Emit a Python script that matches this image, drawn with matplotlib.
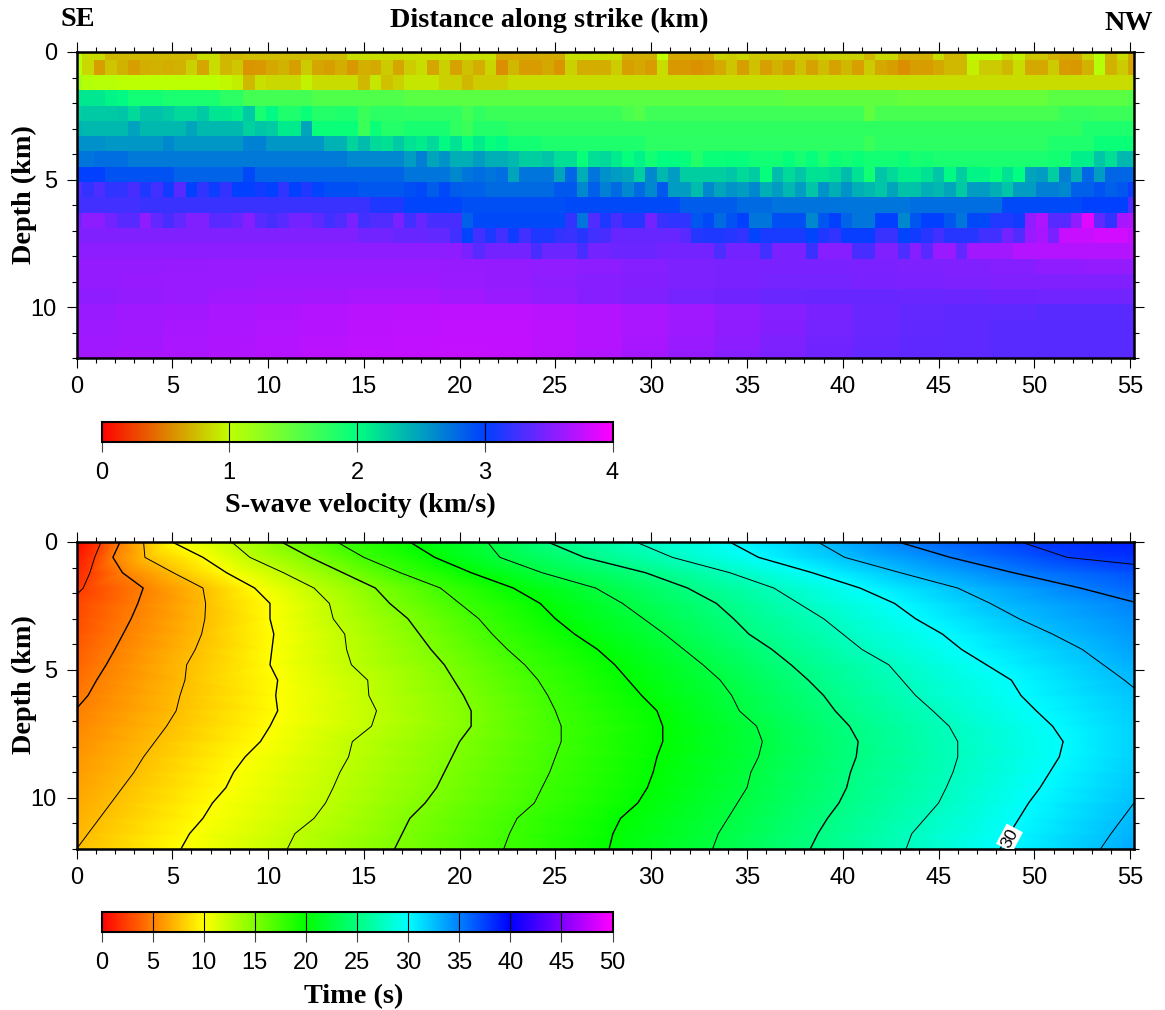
#!/usr/bin/env python3
# S-wave velocity section and travel time section along strike
import numpy as np
import matplotlib
matplotlib.use('Agg')
import matplotlib.pyplot as plt
import matplotlib.tri as mtri
from matplotlib.cm import ScalarMappable
from matplotlib.colors import LinearSegmentedColormap, Normalize
from matplotlib.ticker import MultipleLocator

nan = np.nan
W, H = 1165, 1010
SANS = 'Liberation Sans'
SERIF = 'Liberation Serif'

# grid nodes of the velocity model, km
dist_nodes = [0.6 * i for i in range(93)]
depth_nodes = [0.6 * i for i in range(21)]


def wide(vals, n=4):
    # one value read per n columns, deep layers change slowly
    return [v for v in vals for _ in range(n)]


# S-wave velocity (km/s), one list per depth node, 93 columns
vs_00 = [1.05] + [.86]*2 + [.72]*8 + [.86]*2 + [.72]*2 + [.74]*9 + [.86]*5 + [.88]*8 + [.67]*6 + [.88]*5 + [.68]*3 + [1.0] + [.66]*4 + [.82, .8, .84] + [.78]*6 + [.82]*4 + [.72] + [.85]*2 + [.68]*3 + [.86] + [.72]*2 + [1.02]*3 + [.86, .94] + [.78]*2 + [.7] + [.66]*2 + [.83, 1.05, .72, .86, .66]
vs_06 = [1.05, .85, .62, .77, .7, .62, .68, .7, .68, .7, .82, .65, .86, .72, .78, .58, .6, .66, .7, .62, .79, .65, .62, .68, .6, .69, .67, .79, .65,
         .8, .86, .65, .82, .64, .76, .68, .83, .56, .72, .61, .61, .66, .58, .82, .68, .68, .68, .8, .63, .66, .61, .86, .6, .6, .57, .6, .67, .77, .62, .75, .63,
         .7, .63, .75, .64, .74, .64, .72, .63, .79, .66, .62, .56, .62, .61, .66, .72, .72, .94, .79, .79, .72, .86, .66, .66, .79, .61, .6, .7, 1.06, .7, .79, .64]
vs_12 = [1.15, 1.07] + [1.05]*2 + [1.02]*9 + [.97, .93, .72, .88] + [.85]*3 + [.95] + [.86]*4 + [.72, .9, .76, .82] + [.9]*3 + [.82]*2 + [.72] + [.8]*3 + [.86]*55
vs_18 = [2.12]*3 + [2.06, 2.03] + [1.92]*3 + [1.87]*5 + [1.78]*2 + [1.65]*6 + [1.58]*8 + [1.53]*33 + [1.5]*10 + [1.47]*13 + [1.53]*7 + [1.58]
vs_24 = [2.25, 2.28, 2.28, 2.28, 2.3, 2.2, 2.32, 2.32, 2.28, 2.2, 2.2, 2.28, 2.14, 2.14, 2.08, 2.28, 1.88, 2.03, 1.85, 1.85, 1.95, 1.82, 1.82, 1.85, 1.85, 1.7, 1.78, 1.78, 1.78] + [1.75]*5 + [1.65, 1.75] + [1.7]*12 + [1.62, 1.57] + [1.68]*19 + [1.5] + [1.63]*16 + [1.72]*3 + [1.7]*4
vs_30 = [2.4] + [2.36]*4 + [2.48] + [2.36]*4 + [2.47] + [2.36]*4 + [2.24, 2.3, 2.27, 2.1, 2.1, 2.47] + [1.95]*4 + [1.7, 1.95, 1.82, 1.82] + [1.88]*4 + [1.75, 1.7] + [1.82]*3 + [1.76]*50 + [1.85]*5
vs_36 = [2.58]*3 + [2.55]*5 + [2.62] + [2.55]*6 + [2.66]*2 + [2.55]*5 + [2.4]*2 + [2.22, 2.35, 2.2, 2.16, 2.28] + [2.15, 2.1, 2.2, 2.03, 2.15, 1.97, 2.1, 1.97, 2.03] + [1.9]*3 + [1.85]*9 + [1.78]*19 + [1.7] + [1.78]*15 + [1.85]*4 + [1.95]*4
vs_42 = [2.72]*2 + [2.76]*3 + [2.7]*19 + [2.63]*5 + [2.52, 2.67, 2.47, 2.57, 2.42, 2.42, 2.52, 2.42, 2.42, 2.37, 2.25, 2.25, 2.3, 2.17, 2.17, 1.96, 2.17, 2.2, 2.1, 1.97, 2.07, 1.9, 2.0, 2.0, 1.97, 1.82, 1.95, 1.95, 1.97, 1.97, 1.92, 1.92] + [1.9, 1.97, 1.88, 1.97, 1.85, 1.95, 1.9, 1.95, 1.9, 1.92, 1.9, 1.95, 1.88, 1.9] + [1.87]*10 + [1.9]*2 + [2.08]*2 + [2.3, 2.17, 2.37, 2.37]
vs_48 = [3.0]*3 + [2.9]*6 + [2.82]*6 + [2.95] + [2.82]*13 + [2.72]*4 + [2.62, 2.72, 2.76, 2.72, 2.76, 2.47] + [2.72]*3 + [2.47, 2.8, 2.42, 2.72, 2.58, 2.52, 2.47, 2.25, 2.62, 2.37, 2.52] + [2.25]*4 + [2.3, 2.2, 2.27, 1.97] + [2.35, 2.2, 2.3, 2.15, 2.15, 2.2, 2.35, 2.15, 1.9, 2.3, 2.2, 2.08, 2.08, 2.15, 2.3, 2.03, 2.25, 2.05, 2.05, 1.97, 2.15, 2.0, 2.47, 2.52, 2.25, 2.67, 2.42, 2.8, 2.52, 2.8, 2.8, 2.8]
vs_54 = [3.3, 3.2, 3.3, 3.18, 3.2, 3.28, 3.12, 3.25, 3.07, 3.35, 3.0, 3.18, 3.05, 3.2, 3.0, 3.0, 3.07, 3.0, 3.18, 3.0, 3.12, 2.97, 2.92, 2.92, 2.92, 2.88, 2.88, 2.88, 2.88,
         2.92, 2.95, 2.85, 2.95, 2.85, 2.83, 2.83, 2.78, 2.78, 2.78, 2.78, 2.78, 2.78, 2.87, 2.87, 2.62, 2.83, 2.67, 2.78, 2.62, 2.78, 2.62, 2.87, 2.52, 2.52, 2.35, 2.62, 2.47, 2.57, 2.52, 2.62, 2.42,
         2.52, 2.37, 2.52, 2.3, 2.57, 2.42, 2.57, 2.42, 2.37, 2.3, 2.47, 2.32, 2.32, 2.42, 2.37, 2.47, 2.28, 2.52, 2.52, 2.42, 2.3, 2.52, 2.52, 2.67, 2.67, 2.62, 2.83, 2.83, 2.9, 2.83, 2.88, 3.05]
vs_60 = [3.25]*6 + [3.22]*20 + [3.12]*3 + [2.97]*5 + [2.92]*9 + [2.95]*10 + [2.85]*5 + [2.78]*3 + [2.73]*6 + [2.72]*6 + [2.76]*8 + [2.95]*7 + [3.0]*4 + [3.3]
vs_66 = [3.45, 3.55, 3.55, 3.45, 3.35, 3.35, 3.56, 3.38, 3.28, 3.38, 3.5, 3.5, 3.35, 3.35, 3.4, 3.52, 3.35, 3.28, 3.35, 3.45, 3.45, 3.36, 3.25, 3.32, 3.47, 3.25, 3.32, 3.32, 3.47, 3.25, 3.4, 3.28, 3.28, 3.28, 2.83] + [2.95]*8 + [3.2, 2.72, 3.32, 3.12, 3.28, 3.15, 3.15, 3.45, 3.22, 3.18, 3.18, 2.88, 2.95, 2.78, 2.9, 3.0, 2.72, 2.72, 2.92, 2.92, 2.92, 2.62, 2.88, 3.0, 2.82, 2.72, 2.72, 3.0, 3.0, 2.62, 2.88, 3.0, 3.0, 2.88, 2.72, 2.95, 2.95, 3.13, 3.13, 3.07, 3.57, 3.68, 3.35, 3.35, 3.57, 3.88, 3.38, 3.2, 3.65, 3.68]
vs_72 = [3.5]*25 + [3.44]*3 + [3.4]*3 + [3.38]*2 + [3.25, 2.97, 3.25, 3.12, 3.25, 3.07, 3.25, 3.12, 3.12, 3.2, 3.22, 3.15, 3.25, 3.28] + [3.4]*6 + [3.35, 3.14, 3.12, 3.12, 3.15, 3.2, 2.97] + [3.1]*4 + [2.97, 3.12, 3.2, 3.03, 3.03, 3.03, 3.22, 3.22, 2.97, 3.07, 3.15, 3.25, 3.15, 3.15, 3.15, 3.25, 3.25, 3.45, 3.32, 3.6, 3.65, 3.47, 3.78, 3.78, 3.78, 3.82, 3.82, 3.82, 3.75]
vs_78 = [3.55]*34 + [3.47, 3.35] + [3.45]*4 + [3.28] + [3.42]*3 + [3.28] + [3.45]*2 + [3.42]*4 + [3.45]*5 + [3.3] + [3.45]*3 + [3.25] + [3.47]*3 + [3.22] + [3.53]*3 + [3.28]*2 + [3.5]*2 + [3.3, 3.53, 3.35, 3.6, 3.6, 3.38] + [3.63]*4 + [3.7]*11
vs_84 = wide([3.58, 3.58, 3.59, 3.6, 3.6, 3.6, 3.6, 3.6, 3.59, 3.58, 3.57, 3.55, 3.52, 3.49, 3.47, 3.47, 3.47, 3.48, 3.49, 3.5, 3.52, 3.56, 3.58, 3.58])
vs_90 = wide([3.58, 3.59, 3.6, 3.6, 3.61, 3.61, 3.61, 3.61, 3.6, 3.58, 3.55, 3.53, 3.51, 3.49, 3.47, 3.46, 3.46, 3.47, 3.48, 3.49, 3.5, 3.5, 3.5, 3.5])
vs_96 = wide([3.56, 3.58, 3.6, 3.62, 3.63, 3.64, 3.65, 3.65, 3.63, 3.6, 3.57, 3.53, 3.5, 3.46, 3.43, 3.41, 3.4, 3.4, 3.41, 3.42, 3.43, 3.44, 3.44, 3.44])
vs_102 = wide([3.6, 3.62, 3.64, 3.66, 3.68, 3.7, 3.72, 3.73, 3.74, 3.74, 3.72, 3.7, 3.66, 3.62, 3.57, 3.52, 3.47, 3.42, 3.39, 3.37, 3.36, 3.35, 3.35, 3.35])
vs_108 = wide([3.61, 3.63, 3.65, 3.67, 3.69, 3.71, 3.73, 3.74, 3.75, 3.75, 3.73, 3.7, 3.66, 3.61, 3.56, 3.51, 3.46, 3.41, 3.38, 3.36, 3.35, 3.34, 3.34, 3.34])
vs_114 = wide([3.62, 3.64, 3.66, 3.68, 3.7, 3.72, 3.74, 3.75, 3.76, 3.76, 3.73, 3.7, 3.65, 3.6, 3.54, 3.49, 3.44, 3.4, 3.37, 3.36, 3.35, 3.34, 3.34, 3.34])
vs_120 = wide([3.63, 3.65, 3.67, 3.69, 3.71, 3.73, 3.75, 3.76, 3.77, 3.76, 3.73, 3.69, 3.64, 3.58, 3.53, 3.48, 3.43, 3.39, 3.37, 3.36, 3.35, 3.35, 3.35, 3.35])

vs_rows = [vs_00, vs_06, vs_12, vs_18, vs_24, vs_30, vs_36, vs_42, vs_48, vs_54, vs_60,
           vs_66, vs_72, vs_78, vs_84, vs_90, vs_96, vs_102, vs_108, vs_114, vs_120]

# where each isochrone crosses the depth nodes (km along strike)
t_levels = [2.5, 5, 7.5, 10, 12.5, 15, 17.5, 20, 22.5, 25, 27.5, 30, 32.5, 35, 37.5]
x_t025 = [1.28, .95, .7, .35] + [nan]*17
x_t050 = [2.27, 1.9, 2.4, 3.48, 3.2, 2.85, 2.43, 2.0, 1.55, 1.05, .6] + [nan]*10
x_t075 = [3.5, 3.57, 5.05, 6.6, 6.74, 6.7, 6.53, 6.2, 5.75, 5.66, 5.4, 5.2, 4.7, 4.1, 3.5, 3.0, 2.4, 1.8, 1.2, .6, nan]
x_t100 = [5.0, 6.6, 7.83, 9.3, 10.1, 10.1, 10.3, 10.2, 10.1, 10.5, 10.4, 10.5, 10.1, 9.6, 8.8, 8.2, 7.8, 7.1, 6.6, 5.9, 5.45]
x_t125 = [8.1, 9.05, 10.8, 12.4, 13.2, 13.4, 14.0, 14.1, 14.35, 15.2, 15.26, 15.66, 15.4, 14.4, 14.2, 13.75, 13.4, 13.0, 12.4, 11.4, 11.0]
x_t150 = [10.7, 12.2, 13.9, 15.6, 16.35, 17.3, 17.9, 18.5, 19.2, 19.7, 20.2, 20.6, 20.6, 20.0, 19.6, 19.2, 18.8, 18.2, 17.4, 17.0, 16.6]
x_t175 = [13.6, 15.0, 16.9, 19.0, 20.0, 21.0, 21.7, 22.5, 23.4, 24.1, 24.6, 25.0, 25.3, 25.3, 25.0, 24.7, 24.3, 23.9, 23.0, 22.6, 22.3]
x_t200 = [17.4, 18.7, 20.6, 22.8, 24.2, 25.0, 26.0, 27.2, 28.1, 28.8, 29.5, 30.3, 30.6, 30.6, 30.3, 30.1, 29.8, 29.3, 28.4, 28.0, 27.8]
x_t225 = [21.45, 22.1, 24.3, 27.1, 28.5, 29.6, 30.7, 31.7, 32.7, 33.6, 34.2, 34.6, 35.5, 35.8, 35.6, 35.2, 35.0, 34.5, 34.0, 33.5, 33.2]
x_t250 = [24.6, 26.5, 29.7, 31.9, 33.4, 34.3, 35.1, 36.3, 37.3, 38.2, 39.0, 39.6, 40.35, 40.8, 40.7, 40.4, 40.2, 39.8, 39.2, 38.7, 38.3]
x_t275 = [29.2, 31.1, 34.1, 36.4, 37.7, 39.0, 40.0, 41.0, 42.4, 43.1, 43.8, 44.7, 45.55, 46.0, 46.0, 45.75, 45.4, 45.0, 44.3, 43.6, 43.3]
x_t300 = [34.1, 35.6, 38.4, 40.9, 42.7, 43.8, 45.2, 46.2, 47.5, 48.8, 49.3, 50.1, 50.95, 51.5, 51.3, 50.8, 50.3, 49.7, 49.2, 48.7, 48.2]
x_t325 = [38.7, 40.1, 43.0, 46.0, 47.7, 49.2, 50.95, 52.5, 53.6, 54.7] + [nan]*8 + [54.6, 54.0, 53.45]
x_t350 = [42.9, 45.6, 48.9, 52.4] + [nan]*17
x_t375 = [49.3, 51.7] + [nan]*19
x_isochrones = [x_t025, x_t050, x_t075, x_t100, x_t125, x_t150, x_t175, x_t200,
                x_t225, x_t250, x_t275, x_t300, x_t325, x_t350, x_t375]

# travel time on the two ends of the profile (s), per depth node
t_left = [0.2, 1.0, 1.6, 2.3, 2.75, 3.0, 3.3, 3.65, 4.0, 4.35, 4.7, 5.05, 5.35, 5.6, 5.9, 6.15, 6.4, 6.7, 6.95, 7.2, 7.5]
t_right = [38.8, 38.0, 36.9, 36.0, 34.9, 34.4, 34.0, 33.6, 33.1, 32.7, 32.3, 32.0, 31.8, 31.7, 31.8, 32.0, 32.2, 32.5, 32.8, 33.1, 33.4]

vs_ticks = [0, 1, 2, 3, 4]
time_ticks = [0, 5, 10, 15, 20, 25, 30, 35, 40, 45, 50]
vs_colors = ['#ff0000', '#bfff00', '#00ff80', '#0040ff', '#ff00ff']
time_colors = ['#ff0000', '#ffff00', '#00ff00', '#00ffff', '#0000ff', '#ff00ff']

vs_cmap = LinearSegmentedColormap.from_list('vs', vs_colors, N=512)
time_cmap = LinearSegmentedColormap.from_list('time', time_colors, N=512)


def px_axes(fig, left, top, right, bottom):
    return fig.add_axes([left / W, 1 - bottom / H, (right - left) / W, (bottom - top) / H])


def px_text(fig, x, y, s, rotation=0):
    fig.text(x / W, 1 - y / H, s, family=SERIF, weight='bold', fontsize=20.3, ha='center', va='center', rotation=rotation)


def style_section(ax):
    ax.set_xlim(0, 55.2)
    ax.set_ylim(12, 0)
    ax.xaxis.set_major_locator(MultipleLocator(5))
    ax.xaxis.set_minor_locator(MultipleLocator(1))
    ax.yaxis.set_major_locator(MultipleLocator(5))
    ax.yaxis.set_minor_locator(MultipleLocator(1))
    ax.tick_params(which='major', direction='out', length=7.2, width=0.8, top=True, right=True, labelsize=17, pad=5.5)
    ax.tick_params(which='minor', direction='out', length=3.6, width=0.8, top=True, right=True)
    ax.tick_params(axis='y', which='major', pad=7)
    for label in ax.get_xticklabels() + ax.get_yticklabels():
        label.set_family(SANS)
    for spine in ax.spines.values():
        spine.set_linewidth(1.8)


def color_bar(fig, cmap, vmax, ticks, left, top, right, bottom):
    cax = px_axes(fig, left, top, right, bottom)
    sm = ScalarMappable(norm=Normalize(0, vmax), cmap=cmap)
    cb = fig.colorbar(sm, cax=cax, orientation='horizontal', ticks=ticks)
    cb.outline.set_linewidth(1.5)
    cax.tick_params(length=7.2, width=0.8, labelsize=17, pad=7.5, color='#444444')
    for label in cax.get_xticklabels():
        label.set_family(SANS)
    for t in ticks[1:-1]:
        cax.axvline(t, color='k', lw=0.8)


fig = plt.figure(figsize=(W / 100, H / 100), dpi=100)

# velocity section
ax1 = px_axes(fig, 76.5, 52, 1134, 358)
vs_grid = np.array([(r + r[-1:] * 93)[:93] for r in vs_rows])
ax1.pcolormesh(dist_nodes, depth_nodes, vs_grid, cmap=vs_cmap, vmin=0, vmax=4, shading='nearest')
style_section(ax1)

# travel time section
ax2 = px_axes(fig, 76.5, 542, 1134, 849)
depths = np.array(depth_nodes)
pts_x = [np.zeros(21), np.full(21, 55.2)]
pts_z = [depths, depths]
pts_t = [np.array(t_left), np.array(t_right)]
for level, xs in zip(t_levels, x_isochrones):
    xs = np.array(xs)
    ok = ~np.isnan(xs)
    pts_x.append(xs[ok])
    pts_z.append(depths[ok])
    pts_t.append(np.full(ok.sum(), level, dtype=float))
pts_x = np.concatenate(pts_x)
pts_z = np.concatenate(pts_z)
pts_t = np.concatenate(pts_t)

# triangulate with depth stretched so triangles span between depth nodes,
# not along a single isochrone
tri = mtri.Triangulation(pts_x, pts_z * 8)
tri = mtri.Triangulation(pts_x, pts_z, tri.triangles)
ax2.tripcolor(tri, pts_t, shading='gouraud', cmap=time_cmap, vmin=0, vmax=50)
ax2.tricontour(tri, pts_t, levels=[l for l in t_levels if l % 5 == 0], colors='k', linewidths=1.0)
ax2.tricontour(tri, pts_t, levels=[l for l in t_levels if l % 5 != 0], colors='k', linewidths=0.7)
style_section(ax2)
ax2.text(48.7, 11.57, '30', family=SANS, fontsize=12.5, rotation=62, ha='center', va='center', clip_on=True,
         bbox=dict(facecolor='white', edgecolor='none', pad=1.2))

# colour bars
color_bar(fig, vs_cmap, 4, vs_ticks, 101.5, 422, 612.5, 442)
color_bar(fig, time_cmap, 50, time_ticks, 101.5, 912, 612.5, 932)

# labels
px_text(fig, 78, 20, 'SE')
px_text(fig, 549, 20, 'Distance along strike (km)')
px_text(fig, 1129, 24, 'NW')
px_text(fig, 24, 195, 'Depth (km)', rotation=90)
px_text(fig, 24, 685, 'Depth (km)', rotation=90)
px_text(fig, 360, 505, 'S-wave velocity (km/s)')
px_text(fig, 354, 997, 'Time (s)')

fig.savefig('out.png', dpi=100)
plt.close('all')
